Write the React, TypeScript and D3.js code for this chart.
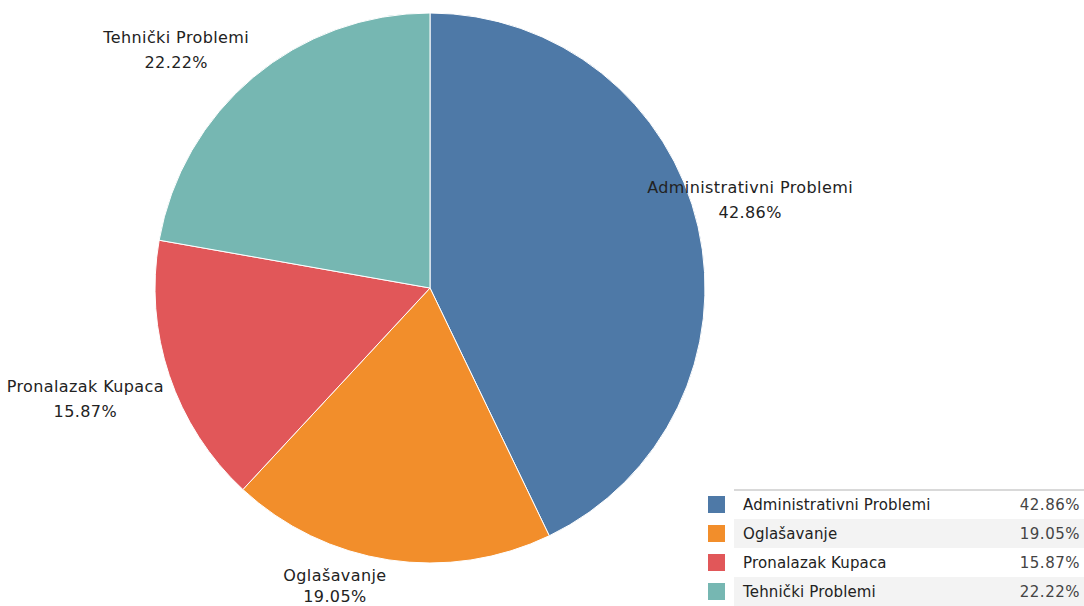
import React from "react";
import * as d3 from "d3";

const categories = ["Administrativni Problemi", "Oglašavanje", "Pronalazak Kupaca", "Tehnički Problemi"];
const shares = [42.86, 19.05, 15.87, 22.22];
const colors = ["#4e79a7", "#f28e2b", "#e15759", "#76b7b2"];

const W = 1084;
const H = 606;
const cx = 430;
const cy = 288;
const R = 275;

// label placement relative to the rim point at each slice's mid angle
const labelShift = [
	{dx: 52, dy: -34, gap: 25},
	{dx: -54, dy: 21, gap: 21},
	{dx: -84, dy: 16, gap: 25},
	{dx: -77, dy: -34, gap: 25},
];

const App: React.FC = () => {
	const pie = d3
		.pie<number>()
		.sort(null)
		.value((d) => d);
	const arcs = pie(shares);
	const arc = d3.arc<d3.PieArcDatum<number>>().innerRadius(0).outerRadius(R);
	const rim = d3.arc<d3.PieArcDatum<number>>().innerRadius(R).outerRadius(R);

	const legendX = 708;
	const legendTop = 490;
	const rowH = 29;
	const rows = d3.range(categories.length);
	const y = d3
		.scaleBand<number>()
		.domain(rows)
		.range([legendTop, legendTop + rowH * rows.length]);

	return (
		<svg
			width={W}
			height={H}
			style={{position: "absolute", left: 0, top: 0, fontFamily: "'DejaVu Sans', sans-serif"}}
		>
			<rect width={W} height={H} fill="#fff" />
			<g transform={`translate(${cx},${cy})`}>
				{arcs.map((a, i) => (
					<path key={i} d={arc(a) || ""} fill={colors[i]} stroke="#fff" strokeWidth={1} />
				))}
			</g>
			{arcs.map((a, i) => {
				const [px, py] = rim.centroid(a);
				const x = cx + px + labelShift[i].dx;
				const yy = cy + py + labelShift[i].dy;
				return (
					<text
						key={i}
						x={x}
						y={yy}
						textAnchor="middle"
						fontSize={16}
						letterSpacing={0.4}
						fill="#222"
					>
						<tspan x={x} dy={0}>
							{categories[i]}
						</tspan>
						<tspan x={x} dy={labelShift[i].gap}>
							{shares[i].toFixed(2)}%
						</tspan>
					</text>
				);
			})}
			<g>
				{rows.map((i) => (
					<g key={i}>
						<rect
							x={734}
							y={y(i)}
							width={W - 734}
							height={y.bandwidth()}
							fill={i % 2 === 1 ? "#f3f3f3" : "#fff"}
						/>
						<rect
							x={legendX}
							y={(y(i) || 0) + 6}
							width={17}
							height={17}
							fill={colors[i]}
						/>
						<text
							x={743}
							y={(y(i) || 0) + y.bandwidth() / 2 + 5}
							fontSize={15}
							letterSpacing={0.15}
							fill="#222"
						>
							{categories[i]}
						</text>
						<text
							x={1080}
							y={(y(i) || 0) + y.bandwidth() / 2 + 5}
							fontSize={15}
							letterSpacing={0.5}
							fill="#444"
							textAnchor="end"
						>
							{shares[i].toFixed(2)}%
						</text>
					</g>
				))}
				<line x1={734} x2={W} y1={legendTop} y2={legendTop} stroke="#ccc" strokeWidth={1.5} />
			</g>
		</svg>
	);
};

export default App;
